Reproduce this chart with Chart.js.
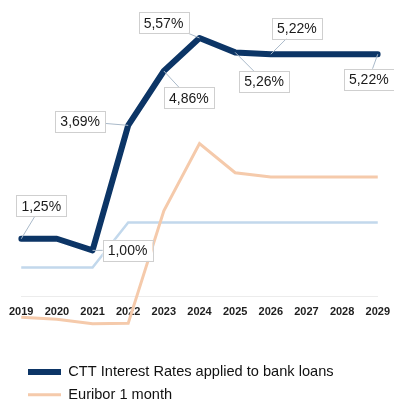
<!DOCTYPE html>
<html>
<head>
<meta charset="utf-8">
<script src="https://cdn.jsdelivr.net/npm/chart.js@4/dist/chart.umd.min.js"></script>
<style>
  html, body { margin: 0; padding: 0; background: #fff; overflow: hidden; }
  #wrap { width: 399px; height: 412px; position: relative; }
</style>
</head>
<body>
<div id="wrap"><canvas id="rates"></canvas></div>
<script>
const years = ['2019', '2020', '2021', '2022', '2023', '2024', '2025', '2026', '2027', '2028', '2029'];
const cttRates = [1.25, 1.25, 1.00, 3.69, 4.86, 5.57, 5.26, 5.22, 5.22, 5.22, 5.22];
const euribor1m = [-0.44, -0.48, -0.58, -0.57, 1.85, 3.30, 2.67, 2.58, 2.58, 2.58, 2.58];
const refRate = [0.63, 0.63, 0.63, 1.60, 1.60, 1.60, 1.60, 1.60, 1.60, 1.60, 1.60];
const seriesNames = ['CTT Interest Rates applied to bank loans', 'Euribor 1 month'];

// where each value callout sits relative to its point (null = no callout)
const calloutOffsets = [[20, -33], null, [35, 0], [-48, -4], [25, 27], [-36, -15], [29, 29], [26, -26], null, null, [-9, 25]];

const fmtPct = v => v.toFixed(2).replace('.', ',') + '%';

const callouts = {
  id: 'callouts',
  afterDatasetsDraw(chart) {
    const ctx = chart.ctx;
    const meta = chart.getDatasetMeta(0);
    ctx.save();
    ctx.font = '14px "Liberation Sans", Arial, sans-serif';
    ctx.textAlign = 'center';
    ctx.textBaseline = 'middle';
    meta.data.forEach((pt, i) => {
      const off = calloutOffsets[i];
      if (!off) return;
      const text = fmtPct(cttRates[i]);
      const cx = pt.x + off[0];
      const cy = pt.y + off[1];
      const w = ctx.measureText(text).width + 10;
      const h = 21;
      // leader line, box drawn over its inner end
      ctx.strokeStyle = '#a9b9c9';
      ctx.lineWidth = 1;
      ctx.beginPath();
      ctx.moveTo(pt.x, pt.y);
      ctx.lineTo(cx, cy);
      ctx.stroke();
      ctx.fillStyle = '#fff';
      ctx.fillRect(cx - w / 2, cy - h / 2, w, h);
      ctx.strokeStyle = '#cfcfcf';
      ctx.strokeRect(Math.round(cx - w / 2) + 0.5, Math.round(cy - h / 2) + 0.5, Math.round(w), h);
      ctx.fillStyle = '#1a1a1a';
      ctx.fillText(text, cx, cy + 1);
    });
    ctx.restore();
  }
};

new Chart(document.getElementById('rates'), {
  type: 'line',
  data: {
    labels: years,
    datasets: [
      {
        label: seriesNames[0],
        data: cttRates,
        borderColor: '#0c3566',
        backgroundColor: '#0c3566',
        borderWidth: 6,
        borderCapStyle: 'round',
        borderJoinStyle: 'round',
        pointRadius: 0,
        tension: 0
      },
      {
        label: seriesNames[1],
        data: euribor1m,
        borderColor: '#f5caab',
        backgroundColor: '#f5caab',
        borderWidth: 3,
        pointRadius: 0,
        tension: 0
      },
      {
        data: refRate,
        borderColor: '#c2d8ec',
        backgroundColor: '#c2d8ec',
        borderWidth: 2.5,
        pointRadius: 0,
        tension: 0
      }
    ]
  },
  options: {
    responsive: true,
    maintainAspectRatio: false,
    animation: false,
    layout: { padding: { top: 18, left: 20, right: 0, bottom: 0 } },
    scales: {
      x: {
        type: 'category',
        position: { y: 0 },
        offset: false,
        grid: { display: false, drawTicks: false },
        border: { display: true, color: '#ececec', width: 1 },
        ticks: {
          padding: 9,
          color: '#1e1e1e',
          maxRotation: 0,
          autoSkip: false,
          font: { family: '"Liberation Sans", Arial, sans-serif', size: 11, weight: 'bold' }
        }
      },
      y: {
        display: false,
        min: -1.29,
        max: 6
      }
    },
    plugins: {
      tooltip: { enabled: false },
      legend: {
        position: 'bottom',
        align: 'start',
        labels: {
          filter: item => item.datasetIndex < 2,
          usePointStyle: true,
          pointStyle: 'line',
          pointStyleWidth: 33,
          padding: 8,
          color: '#111',
          font: { family: '"Liberation Sans", Arial, sans-serif', size: 14.6, lineHeight: 1 }
        }
      }
    }
  },
  plugins: [callouts]
});
</script>
</body>
</html>
